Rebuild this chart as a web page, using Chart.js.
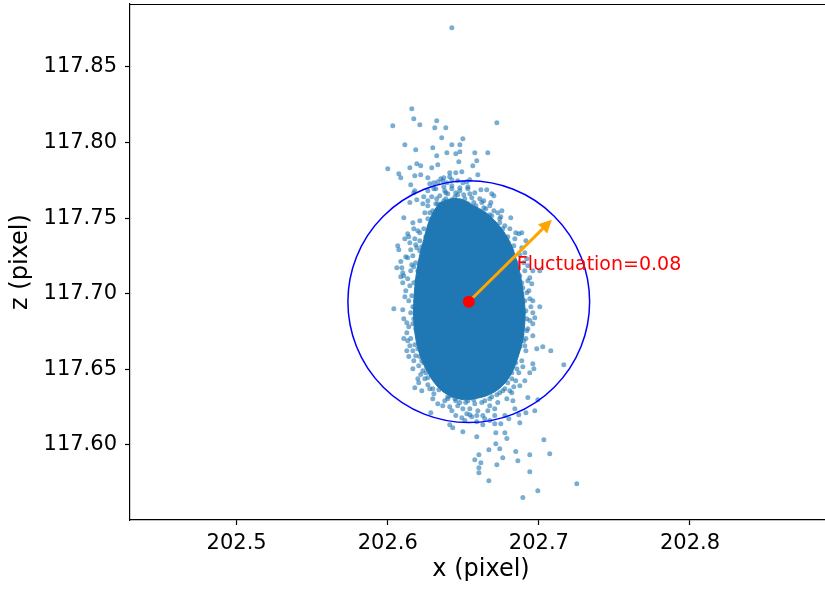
<!DOCTYPE html>
<html>
<head>
<meta charset="utf-8">
<script src="https://cdn.jsdelivr.net/npm/chart.js@4.4.1/dist/chart.umd.min.js"></script>
<style>
html,body{margin:0;padding:0;overflow:hidden;background:#fff;}
#wrap{width:832px;height:590px;}
</style>
</head>
<body>
<div id="wrap"><canvas id="c" width="832" height="590"></canvas></div>
<script>
// ---- data ----
const xTicks = [202.5, 202.6, 202.7, 202.8];
const yTicks = [117.60, 117.65, 117.70, 117.75, 117.80, 117.85];
const xRange = [202.4294, 202.894];
const yRange = [117.5504, 117.8915];

const meanPosition = [202.6536, 117.6947];
const fluctuation = 0.08;
const arrowTip = [202.7086, 117.7489];
const labelPosition = [202.6854, 117.7192];
const labelText = "Fluctuation=0.08";

// outline of the saturated (fully overlapped) core of the cloud
const coreOutline = [
[202.6344,117.7602],[202.6424,117.7628],[202.6497,117.7621],[202.6569,117.7582],[202.6642,117.7542],
[202.6708,117.7483],[202.6768,117.7410],[202.6814,117.7331],[202.6847,117.7238],[202.6874,117.7139],
[202.6894,117.7026],[202.6907,117.6921],[202.6907,117.6808],[202.6894,117.6696],[202.6867,117.6597],
[202.6834,117.6504],[202.6788,117.6425],[202.6728,117.6365],[202.6655,117.6326],[202.6576,117.6306],
[202.6503,117.6299],[202.6424,117.6319],[202.6357,117.6359],[202.6298,117.6425],[202.6252,117.6504],
[202.6212,117.6597],[202.6185,117.6703],[202.6172,117.6822],[202.6172,117.6934],[202.6179,117.7046],
[202.6192,117.7152],[202.6212,117.7258],[202.6238,117.7357],[202.6265,117.7456],[202.6298,117.7535],
[202.6344,117.7602]
];

// individually visible samples
const samples = [
[202.6424,117.8758],[202.6159,117.8223],[202.6172,117.8157],[202.6324,117.8144],[202.6033,117.8110],
[202.6212,117.8117],[202.6311,117.8097],[202.6384,117.8097],[202.6722,117.8130],[202.6357,117.8031],
[202.6497,117.8025],[202.6113,117.7985],[202.6185,117.7952],[202.6298,117.7965],[202.6424,117.7985],
[202.6477,117.7985],[202.6391,117.7932],[202.6450,117.7925],[202.6477,117.7939],[202.6576,117.7932],
[202.6662,117.7932],[202.6324,117.7912],[202.6470,117.7873],[202.6589,117.7879],[202.6563,117.7846],
[202.6000,117.7826],[202.6146,117.7833],[202.6192,117.7859],[202.6218,117.7846],[202.6291,117.7833],
[202.6331,117.7853],[202.6073,117.7793],[202.6086,117.7767],[202.6179,117.7780],[202.6218,117.7787],
[202.6265,117.7767],[202.6410,117.7800],[202.6450,117.7800],[202.6490,117.7806],[202.6596,117.7787],
[202.6351,117.7760],[202.6371,117.7767],[202.6410,117.7773],[202.6152,117.7720],[202.6278,117.7727],
[202.6305,117.7734],[202.6331,117.7740],[202.6364,117.7747],[202.6391,117.7734],[202.6424,117.7754],
[202.6463,117.7747],[202.6497,117.7734],[202.6523,117.7740],[202.6543,117.7754],[202.6172,117.7668],
[202.6655,117.7687],[202.6702,117.7648],[202.6688,117.7661],[202.6616,117.7687],[202.6146,117.7602],
[202.6232,117.7595],[202.6106,117.7502],[202.6166,117.7469],[202.6622,117.7602],[202.6682,117.7602],
[202.6755,117.7549],[202.6814,117.7502],[202.6748,117.7509],[202.6179,117.7681],[202.6192,117.7621],
[202.6265,117.7681],[202.6318,117.7694],[202.6371,117.7707],[202.6424,117.7714],[202.6477,117.7701],
[202.6530,117.7694],[202.6576,117.7668],[202.6291,117.7641],[202.6344,117.7648],[202.6397,117.7661],
[202.6450,117.7668],[202.6503,117.7654],[202.6556,117.7635],[202.6609,117.7628],[202.6265,117.7582],
[202.6318,117.7595],[202.6371,117.7615],[202.6424,117.7621],[202.6477,117.7615],[202.6530,117.7595],
[202.6583,117.7582],[202.6649,117.7562],[202.6245,117.7535],[202.6298,117.7549],[202.6351,117.7568],
[202.6397,117.7575],[202.6450,117.7568],[202.6503,117.7562],[202.6556,117.7549],[202.6609,117.7535],
[202.6675,117.7522],[202.6212,117.7483],[202.6265,117.7496],[202.6318,117.7516],[202.6596,117.7496],
[202.6649,117.7469],[202.6715,117.7449],[202.6775,117.7449],
[202.6132,117.7397],[202.6146,117.7337],[202.6066,117.7317],[202.6073,117.7291],[202.6132,117.7238],
[202.6086,117.7212],[202.6060,117.7172],[202.6099,117.7139],[202.6159,117.7192],[202.6086,117.7112],
[202.6192,117.7304],[202.6212,117.7284],[202.6040,117.6901],[202.6099,117.6894],[202.6126,117.6808],
[202.6179,117.6907],[202.6093,117.7172],[202.6106,117.7119],[202.6099,117.7073],[202.6166,117.6802],
[202.6126,117.6742],[202.6126,117.6623],[202.6166,117.6623],[202.6179,117.6663],[202.6218,117.6465],
[202.6245,117.6438],[202.6179,117.6379],[202.6225,117.6557],[202.6258,117.6511],[202.6232,117.6491],
[202.6265,117.6445],[202.6199,117.7416],[202.6179,117.7364],[202.6212,117.7350],[202.6166,117.7251],
[202.6185,117.7205],[202.6199,117.7152],[202.6172,117.7073],[202.6199,117.7020],[202.6159,117.6987],
[202.6185,117.6954],[202.6205,117.6874],[202.6172,117.6835],[202.6199,117.6722],[202.6218,117.6656],
[202.6185,117.6590],[202.6245,117.6590],[202.6205,117.6524],[202.6238,117.7430],[202.6252,117.7377],
[202.6146,117.7053],[202.6139,117.6954],[202.6152,117.6874],[202.6132,117.6689],[202.6238,117.6755],
[202.6113,117.7364],[202.6152,117.7291],[202.6119,117.7020],[202.6152,117.7152],[202.6106,117.6835],
[202.6146,117.6656],[202.6172,117.6557],[202.6199,117.6438],[202.6225,117.6359],
[202.6172,117.7430],[202.6212,117.7403],[202.6139,117.7377],[202.6185,117.7324],[202.6225,117.7311],
[202.6119,117.7245],[202.6172,117.7178],[202.6132,117.7099],[202.6192,117.7086],[202.6113,117.6980],
[202.6166,117.6914],[202.6139,117.6782],[202.6185,117.6769],[202.6106,117.6703],[202.6152,117.6703],
[202.6199,117.6636],[202.6139,117.6584],[202.6212,117.6584],[202.6238,117.6544],[202.6166,117.6504],
[202.6252,117.6478],[202.6205,117.6412],[202.6265,117.6398],[202.6298,117.6372],
[202.6867,117.7397],[202.6887,117.7403],[202.6841,117.7364],[202.6887,117.7304],[202.6907,117.7271],
[202.6920,117.7231],[202.6927,117.7185],[202.6960,117.7152],[202.6940,117.7106],[202.6953,117.7066],
[202.7006,117.7152],[202.6894,117.7040],[202.6920,117.7007],[202.6887,117.6934],[202.6940,117.6967],
[202.7006,117.6914],[202.6960,117.6874],[202.6940,117.6822],[202.6960,117.6954],[202.6973,117.6841],
[202.6960,117.6802],[202.6920,117.6755],[202.6960,117.6722],[202.7026,117.6650],[202.6986,117.6636],
[202.6914,117.6623],[202.7079,117.6623],[202.7165,117.6531],[202.6960,117.6537],[202.6967,117.6504],
[202.6940,117.6478],[202.6907,117.6425],[202.6874,117.6392],[202.6927,117.6313],[202.6993,117.6299],
[202.6973,117.6227],[202.6914,117.6213],[202.6874,117.6147],[202.6788,117.6306],[202.6828,117.6293],
[202.6808,117.7430],[202.6834,117.7317],[202.6861,117.7205],[202.6874,117.7119],[202.6887,117.6987],
[202.6867,117.6888],[202.6880,117.6788],[202.6861,117.6689],[202.6841,117.6590],[202.6854,117.6504],
[202.6821,117.6438],[202.6907,117.7152],[202.6914,117.6888],[202.6900,117.6689],[202.6808,117.6359],
[202.6914,117.7350],[202.6927,117.7086],[202.6920,117.6835],[202.6907,117.6656],[202.6887,117.6557],
[202.6847,117.6425],[202.6821,117.6346],
[202.6761,117.7430],[202.6794,117.7377],[202.6847,117.7403],[202.6821,117.7284],[202.6874,117.7258],
[202.6854,117.7178],[202.6900,117.7205],[202.6887,117.7073],[202.6934,117.7020],[202.6907,117.6954],
[202.6947,117.6914],[202.6900,117.6874],[202.6927,117.6769],[202.6887,117.6729],[202.6914,117.6703],
[202.6874,117.6650],[202.6847,117.6544],[202.6894,117.6517],[202.6821,117.6478],[202.6867,117.6478],
[202.6794,117.6412],[202.6834,117.6385],[202.6761,117.6359],
[202.6278,117.6372],[202.6305,117.6339],[202.6338,117.6365],[202.6331,117.6273],[202.6364,117.6260],
[202.6410,117.6253],[202.6285,117.6213],[202.6397,117.6306],[202.6450,117.6194],[202.6490,117.6180],
[202.6523,117.6207],[202.6410,117.6134],[202.6430,117.6114],[202.6497,117.6088],[202.6556,117.6187],
[202.6589,117.6194],[202.6629,117.6194],[202.6589,117.6154],[202.6629,117.6134],[202.6589,117.6055],
[202.6708,117.6194],[202.6775,117.6194],[202.6801,117.6174],[202.6841,117.6240],[202.6867,117.6200],
[202.6708,117.6141],[202.6748,117.6141],[202.6715,117.6081],[202.6775,117.6081],[202.6788,117.6042],
[202.6715,117.6008],[202.6741,117.5975],[202.6669,117.5969],[202.6847,117.5956],[202.6603,117.5936],
[202.6576,117.5903],[202.6616,117.5883],[202.6603,117.5850],[202.6603,117.5817],[202.6761,117.5916],
[202.6861,117.5896],[202.6722,117.5870],[202.6940,117.5936],[202.7072,117.5942],[202.7033,117.6035],
[202.6940,117.5823],[202.6669,117.5764],[202.6993,117.5698],[202.6894,117.5652],[202.7251,117.5744],
[202.6391,117.6359],[202.6417,117.6326],[202.6298,117.6306],[202.6444,117.6306],[202.6477,117.6280],
[202.6530,117.6293],[202.6576,117.6273],[202.6642,117.6293],[202.6688,117.6319],[202.6741,117.6346],
[202.6775,117.6372],[202.6490,117.6326],[202.6543,117.6319],[202.6622,117.6332],[202.6675,117.6260],
[202.6344,117.6425],[202.6318,117.6478],
[202.6377,117.6293],[202.6463,117.6260],[202.6543,117.6240],[202.6662,117.6227],[202.6728,117.6280],
[202.6510,117.6161],[202.6675,117.6161],
[202.6397,117.6319],[202.6450,117.6293],[202.6516,117.6280],[202.6569,117.6299],[202.6622,117.6280],
[202.6675,117.6306],[202.6722,117.6332],[202.6497,117.6240],[202.6596,117.6227],[202.6424,117.6227],
[202.6708,117.6240],[202.6642,117.6174],[202.6543,117.6200],
[202.6384,117.7668],[202.6463,117.7654],[202.6543,117.7661],[202.6635,117.7615],[202.6702,117.7549],
[202.6741,117.7496],[202.6324,117.7628],[202.6278,117.7535],
[202.6331,117.7595],[202.6384,117.7628],[202.6444,117.7641],[202.6510,117.7628],[202.6569,117.7602],
[202.6636,117.7568],[202.6688,117.7516],[202.6741,117.7469],[202.6377,117.7681],[202.6424,117.7694],
[202.6477,117.7681],[202.6530,117.7707],[202.6305,117.7694],[202.6238,117.7641],[202.6265,117.7615],
[202.6675,117.7582],[202.6728,117.7535]
];

// ---- styles ----
const FONT = "'DejaVu Sans', sans-serif";
const SCATTER_COLOR = 'rgba(31,119,180,0.6)';
const CORE_COLOR = '#1f77b4';

const toXY = arr => arr.map(p => ({x: p[0], y: p[1]}));

const overlayPlugin = {
  id: 'overlay',
  afterDatasetDraw(chart, args) {
    if (args.index !== 1) return;
    const {ctx} = chart;
    const xs = chart.scales.x, ys = chart.scales.y;
    const cx = xs.getPixelForValue(meanPosition[0]);
    const cy = ys.getPixelForValue(meanPosition[1]);
    const r = Math.abs(xs.getPixelForValue(meanPosition[0] + fluctuation) - cx);
    ctx.save();
    ctx.beginPath();
    ctx.rect(chart.chartArea.left, chart.chartArea.top, chart.chartArea.width, chart.chartArea.height);
    ctx.clip();
    // circle
    ctx.beginPath();
    ctx.arc(cx, cy, r, 0, Math.PI * 2);
    ctx.strokeStyle = '#0000ff';
    ctx.lineWidth = 1.5;
    ctx.stroke();
    // arrow
    const tx = xs.getPixelForValue(arrowTip[0]);
    const ty = ys.getPixelForValue(arrowTip[1]);
    const ang = Math.atan2(ty - cy, tx - cx);
    const headLen = 13, headW = 6.5;
    const bx = tx - headLen * Math.cos(ang), by = ty - headLen * Math.sin(ang);
    ctx.strokeStyle = '#ffa500';
    ctx.fillStyle = '#ffa500';
    ctx.lineWidth = 3;
    ctx.beginPath();
    ctx.moveTo(cx, cy);
    ctx.lineTo(bx, by);
    ctx.stroke();
    ctx.beginPath();
    ctx.moveTo(tx, ty);
    ctx.lineTo(bx + headW * Math.sin(ang), by - headW * Math.cos(ang));
    ctx.lineTo(bx - headW * Math.sin(ang), by + headW * Math.cos(ang));
    ctx.closePath();
    ctx.fill();
    // label
    ctx.fillStyle = '#ff0000';
    ctx.font = "19px " + FONT;
    ctx.textAlign = 'left';
    ctx.textBaseline = 'middle';
    ctx.fillText(labelText, xs.getPixelForValue(labelPosition[0]), ys.getPixelForValue(labelPosition[1]));
    ctx.restore();
  },
  afterDraw(chart) {
    const {ctx, chartArea} = chart;
    ctx.save();
    ctx.strokeStyle = '#000';
    ctx.lineWidth = 1.2;
    ctx.beginPath();
    ctx.moveTo(chartArea.left, chartArea.top + 0.5);
    ctx.lineTo(chartArea.right, chartArea.top + 0.5);
    ctx.stroke();
    ctx.restore();
  }
};

Chart.defaults.font.family = FONT;
Chart.defaults.color = '#000';

new Chart(document.getElementById('c'), {
  type: 'scatter',
  data: {
    datasets: [
      {
        label: 'mean',
        data: [{x: meanPosition[0], y: meanPosition[1]}],
        pointRadius: 6,
        pointBackgroundColor: '#ff0000',
        pointBorderWidth: 0
      },
      {
        label: 'core',
        data: toXY(coreOutline),
        showLine: true,
        fill: 'shape',
        backgroundColor: CORE_COLOR,
        borderColor: CORE_COLOR,
        borderWidth: 1,
        pointRadius: 0,
        tension: 0.3
      },
      {
        label: 'samples',
        data: toXY(samples),
        pointRadius: 2.5,
        pointBackgroundColor: SCATTER_COLOR,
        pointBorderWidth: 0
      }
    ]
  },
  plugins: [overlayPlugin],
  options: {
    responsive: false,
    animation: false,
    layout: {autoPadding: false, padding: {top: 4, left: 0, right: 0, bottom: 0}},
    plugins: {legend: {display: false}, tooltip: {enabled: false}},
    scales: {
      x: {
        type: 'linear',
        min: xRange[0], max: xRange[1],
        afterBuildTicks: s => { s.ticks = xTicks.map(v => ({value: v})); },
        afterFit: s => { s.height = 70; s.paddingLeft = 0; s.paddingRight = 0; },
        ticks: {
          font: {size: 21},
          color: '#000',
          padding: 6,
          maxRotation: 0,
          autoSkip: false,
          callback: v => Number(v).toFixed(1)
        },
        grid: {display: true, drawOnChartArea: false, drawTicks: true, tickLength: 5, tickColor: '#000', tickWidth: 1.2},
        border: {display: true, color: '#000', width: 1.2},
        title: {display: true, text: 'x (pixel)', font: {size: 24}, color: '#000', padding: {top: 0, bottom: 6}}
      },
      y: {
        type: 'linear',
        min: yRange[0], max: yRange[1],
        afterBuildTicks: s => { s.ticks = yTicks.map(v => ({value: v})); },
        afterFit: s => { s.width = 130; s.paddingTop = 0; s.paddingBottom = 0; },
        ticks: {
          font: {size: 21},
          color: '#000',
          padding: 8,
          autoSkip: false,
          callback: v => Number(v).toFixed(2)
        },
        grid: {display: true, drawOnChartArea: false, drawTicks: true, tickLength: 5, tickColor: '#000', tickWidth: 1.2},
        border: {display: true, color: '#000', width: 1.2},
        title: {display: true, text: 'z (pixel)', font: {size: 24}, color: '#000', padding: {top: 6, bottom: 0}}
      }
    }
  }
});
</script>
</body>
</html>
